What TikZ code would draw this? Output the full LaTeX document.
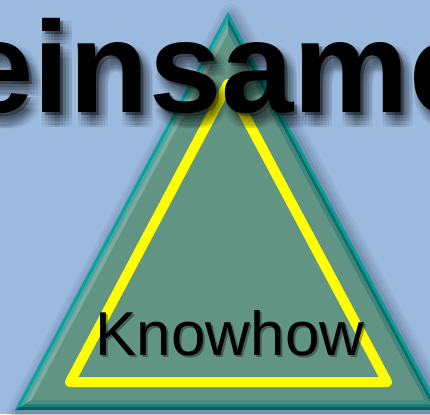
\documentclass[tikz,border=0pt]{standalone}
\usepackage{fontspec}
\setmainfont{Liberation Sans}
\definecolor{bg}{RGB}{155,186,222}
\definecolor{trifill}{RGB}{98,148,132}
\definecolor{hilite}{RGB}{255,255,0}
\definecolor{lA}{RGB}{0,164,162}
\definecolor{lB}{RGB}{80,165,154}
\definecolor{lC}{RGB}{124,170,158}
\definecolor{rA}{RGB}{10,156,152}
\definecolor{rB}{RGB}{11,110,104}
\definecolor{rC}{RGB}{63,133,122}
\definecolor{bA}{RGB}{11,94,90}
\definecolor{bB}{RGB}{23,128,122}
\definecolor{bC}{RGB}{74,142,130}
\begin{document}
\begin{tikzpicture}[x=1pt,y=-1pt,
  bigtext/.style={inner sep=0pt, anchor=base west, font=\fontsize{130}{130}\selectfont\bfseries},
  smalltext/.style={inner sep=0pt, anchor=base, font=\fontsize{62}{62}\selectfont},
  frame/.style={draw=hilite, line width=10pt, line join=round}]
\useasboundingbox (0,0) rectangle (430,414);
\clip (0,0) rectangle (430,414);
\fill[bg] (0,0) rectangle (430,414);
% triangle corners at insets 0,3,6,10
\foreach \d in {0,3,6,10}{
  \coordinate (A\d) at (228,12+2.12*\d);
  \coordinate (B\d) at (15+1.67*\d,410-\d);
  \coordinate (C\d) at (441-1.67*\d,410-\d);
}
% soft shadow of the triangle
\foreach \w/\o in {24/0.04,18/0.05,12/0.06,6/0.08}
  \draw[line width=\w pt, line join=round, black, opacity=\o]
    ([shift={(3,4)}]A0) -- ([shift={(3,4)}]B0) -- ([shift={(3,4)}]C0) -- cycle;
% bevel bands
\foreach \p/\q/\cl/\cr/\cb in {0/3/lA/rA/bA, 3/6/lB/rB/bB, 6/10/lC/rC/bC}{
  \fill[\cl] (A\p) -- (B\p) -- (B\q) -- (A\q) -- cycle;
  \fill[\cr] (A\p) -- (C\p) -- (C\q) -- (A\q) -- cycle;
  \fill[\cb] (B\p) -- (C\p) -- (C\q) -- (B\q) -- cycle;
}
\fill[trifill] (A10) -- (B10) -- (C10) -- cycle;
% yellow inner frame
\coordinate (Y1) at (228,84);
\coordinate (Y2) at (70,382);
\coordinate (Y3) at (387,382);
\draw[frame] (Y1) -- (Y2) -- (Y3) -- cycle;
% Knowhow with shadow
\node[smalltext, text=black, opacity=0.35] (kshadow) at (232,357) {Knowhow};
\node[smalltext] (know) at (230,355) {Knowhow};
% big heading with blurred shadow
\foreach \dx in {-6,-3,0,3,6}
  \foreach \dy in {-6,-3,0,3,6}
    \node[bigtext, text=black, opacity=0.03] (hs\dx\dy) at (-39+6+\dx,113+9+\dy) {einsame};
\node[bigtext, text=black, opacity=0.3] (hshadow) at (-36,116) {einsame};
\node[bigtext] (head) at (-39,113) {einsame};
\end{tikzpicture}
\end{document}
